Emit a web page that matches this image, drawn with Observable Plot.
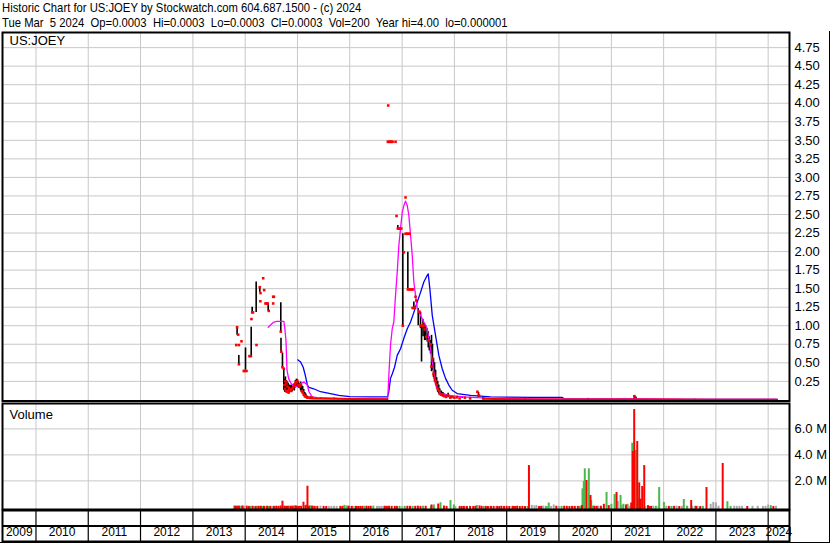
<!DOCTYPE html>
<html><head><meta charset="utf-8">
<script src="https://cdn.jsdelivr.net/npm/d3@7"></script>
<script src="https://cdn.jsdelivr.net/npm/@observablehq/plot@0.6"></script>
<style>
html,body{margin:0;padding:0;background:#fff;}
#wrap{position:relative;width:830px;height:543px;overflow:hidden;font-family:"Liberation Sans",Arial,sans-serif;color:#000;}
#hdr{position:absolute;left:2px;top:1px;font-size:13px;line-height:14.5px;white-space:pre;transform:scaleX(0.867);transform-origin:0 0;}
#box{position:absolute;left:0;top:31px;width:830px;height:512px;box-sizing:border-box;border-right:1px solid #000;border-bottom:1px solid #000;}
</style></head><body>
<div id="wrap"><div id="hdr"></div><div id="box"></div></div>
<script>
// ---------- text ----------
const headerLines = [
  "Historic Chart for US:JOEY by Stockwatch.com 604.687.1500 - (c) 2024",
  "Tue Mar  5 2024  Op=0.0003  Hi=0.0003  Lo=0.0003  Cl=0.0003  Vol=200  Year hi=4.00  lo=0.000001"
];
const symbolLabel = "US:JOEY";
const volumeLabel = "Volume";
const yearLabels = [2009,2010,2011,2012,2013,2014,2015,2016,2017,2018,2019,2020,2021,2022,2023,2024];
const priceTicks = [0.25,0.5,0.75,1,1.25,1.5,1.75,2,2.25,2.5,2.75,3,3.25,3.5,3.75,4,4.25,4.5,4.75];
const volumeTicks = [2,4,6]; // millions

// ---------- scale extents (decimal years / units) ----------
const xStart = 2009.3595, xEnd = 2024.407;
const priceDomain = [-0.015, 4.954];
const volumeDomain = [-0.2, 7.954];

// ---------- price data: [decimal year, low, high] ----------
const hlBars = [
 [2013.845,0.87,0.98],[2013.878,0.49,0.60],[2014.006,0.40,0.70],[2014.115,0.58,0.98],
 [2014.134,1.18,1.25],[2014.210,1.18,1.59],[2014.279,1.45,1.52],[2014.440,1.20,1.30],
 [2014.681,0.92,1.31],[2014.685,0.65,0.83],[2014.713,0.44,0.63],[2014.738,0.13,0.40],
 [2014.75,0.12,0.28],[2014.76,0.10,0.25],[2014.77,0.14,0.31],[2014.78,0.10,0.22],[2014.79,0.12,0.26],
 [2014.80,0.09,0.20],[2014.81,0.10,0.24],[2014.82,0.11,0.22],[2014.83,0.08,0.18],[2014.84,0.10,0.20],
 [2014.86,0.12,0.19],[2014.88,0.10,0.20],[2014.90,0.11,0.18],[2014.92,0.13,0.20],[2014.94,0.12,0.22],
 [2014.96,0.16,0.26],[2014.98,0.18,0.28],[2015.00,0.17,0.27],[2015.02,0.16,0.24],[2015.04,0.15,0.22],
 [2015.06,0.12,0.24],[2015.08,0.10,0.20],[2015.10,0.08,0.18],[2015.12,0.05,0.14],[2015.14,0.04,0.10],
 [2015.16,0.03,0.08],[2015.19,0.02,0.05],[2015.25,0.02,0.04],[2015.45,0.015,0.03],[2015.70,0.01,0.025],
 [2016.10,0.01,0.02],[2016.50,0.01,0.02],
 [2016.918,2.31,2.35],[2017.013,1.00,2.24],[2017.109,1.50,1.99],[2017.224,1.23,1.32],[2017.308,1.00,1.23],
 [2017.352,0.96,1.18],[2017.371,0.51,1.00],[2017.40,0.85,1.08],[2017.43,0.80,1.02],[2017.447,0.80,1.00],
 [2017.48,0.78,0.96],[2017.50,0.70,0.92],[2017.52,0.66,0.85],[2017.543,0.62,0.80],[2017.562,0.38,0.87],
 [2017.58,0.40,0.75],[2017.60,0.30,0.56],[2017.62,0.24,0.50],[2017.64,0.20,0.40],[2017.66,0.15,0.30],
 [2017.68,0.10,0.25],[2017.70,0.08,0.20],[2017.72,0.06,0.15],[2017.75,0.05,0.12],[2017.78,0.04,0.10],
 [2017.81,0.03,0.08],[2017.84,0.03,0.07],[2017.88,0.03,0.09],[2017.92,0.02,0.06],[2017.97,0.02,0.05],
 [2018.05,0.02,0.05],[2018.15,0.02,0.04],[2018.30,0.015,0.035],[2018.46,0.03,0.10],[2018.55,0.01,0.03],
 [2019.35,0.005,0.02],[2020.55,0.005,0.02],[2021.44,0.01,0.06],[2021.47,0.01,0.04],[2022.60,0.003,0.01]
];
// closes: [decimal year, close]
const closes = [
 [2013.830,0.74],[2013.845,0.98],[2013.866,0.88],[2013.880,0.74],[2013.929,0.79],[2013.880,0.48],
 [2013.973,0.39],[2013.990,0.39],[2014.025,0.39],[2014.082,0.59],[2014.110,0.59],[2014.216,0.74],
 [2014.120,1.09],[2014.134,1.18],[2014.150,1.18],[2014.279,1.52],[2014.293,1.44],[2014.344,1.64],
 [2014.363,1.48],[2014.290,1.33],[2014.388,1.30],[2014.410,1.30],[2014.430,1.30],[2014.451,1.20],
 [2014.535,1.39],[2014.550,1.39],[2014.535,1.30],[2014.681,0.92],[2014.690,0.65],[2014.713,0.44],
 [2014.738,0.42],[2014.75,0.20],[2014.76,0.15],[2014.77,0.25],[2014.78,0.12],[2014.79,0.22],
 [2014.80,0.11],[2014.81,0.18],[2014.82,0.13],[2014.83,0.10],[2014.84,0.16],[2014.86,0.14],
 [2014.88,0.12],[2014.90,0.15],[2014.92,0.17],[2014.94,0.20],[2014.96,0.22],[2014.98,0.24],
 [2015.00,0.25],[2015.02,0.20],[2015.04,0.18],[2015.06,0.20],[2015.08,0.12],[2015.10,0.10],
 [2015.12,0.07],[2015.14,0.05],[2015.16,0.04],[2015.19,0.03],[2015.22,0.03],[2015.25,0.025],
 [2015.28,0.03],
 [2016.734,3.97],[2016.727,3.48],[2016.745,3.48],[2016.765,3.48],[2016.785,3.48],[2016.800,3.48],
 [2016.817,3.48],[2016.874,3.48],[2016.893,2.48],[2016.918,2.31],[2016.937,2.31],[2016.960,2.31],
 [2016.983,2.31],[2017.013,1.00],[2017.033,1.99],[2017.065,2.73],[2017.065,2.24],[2017.090,2.24],
 [2017.115,2.24],[2017.142,2.24],[2017.109,1.49],[2017.130,1.49],[2017.160,1.49],[2017.180,1.49],
 [2017.205,1.49],[2017.200,1.24],[2017.224,1.24],[2017.240,1.24],[2017.256,1.39],[2017.270,1.34],
 [2017.333,1.19],[2017.352,1.00],[2017.371,1.00],[2017.390,1.00],[2017.410,1.00],[2017.430,0.95],
 [2017.46,0.85],[2017.50,0.80],[2017.543,0.75],[2017.56,0.45],[2017.58,0.55],[2017.60,0.35],
 [2017.62,0.30],[2017.64,0.25],[2017.66,0.20],[2017.68,0.15],[2017.70,0.12],[2017.72,0.08],
 [2017.75,0.07],[2017.78,0.06],[2017.81,0.05],[2017.84,0.04],[2017.88,0.06],[2017.92,0.03],
 [2017.95,0.04],[2018.00,0.03],[2018.05,0.035],[2018.10,0.02],[2018.20,0.03],[2018.30,0.02],
 [2018.44,0.11],[2018.47,0.06],[2018.55,0.02],[2021.44,0.05]
];
// flat close runs while the stock sat near zero
const closeRunA = [[2015.28,0.02],[2015.60,0.015],[2016.00,0.012],[2016.50,0.01],[2016.72,0.01]];
const closeRunB = [[2018.55,0.015],[2019.00,0.008],[2019.50,0.006],[2020.00,0.005],[2021.00,0.005],[2022.00,0.004],[2023.00,0.003],[2024.17,0.0003]];
// short moving average (magenta)
const maShort = [
 [2014.44,0.98],[2014.50,1.02],[2014.55,1.05],[2014.60,1.06],[2014.74,1.06],[2014.76,0.95],[2014.78,0.80],
 [2014.80,0.40],[2014.83,0.29],[2014.87,0.23],[2014.92,0.19],[2014.97,0.18],[2015.02,0.20],[2015.06,0.22],
 [2015.12,0.24],[2015.19,0.20],[2015.22,0.11],[2015.28,0.04],[2015.38,0.03],[2015.80,0.02],[2016.30,0.015],
 [2016.72,0.012],[2016.727,0.04],[2016.746,0.33],[2016.778,0.74],[2016.811,0.96],[2016.841,1.05],
 [2016.874,1.41],[2016.906,1.72],[2016.937,2.08],[2016.969,2.31],[2017.002,2.53],[2017.033,2.62],
 [2017.065,2.68],[2017.098,2.62],[2017.128,2.49],[2017.161,2.22],[2017.193,1.95],[2017.224,1.59],
 [2017.256,1.41],[2017.289,1.23],[2017.352,1.14],[2017.415,1.05],[2017.480,0.96],[2017.543,0.69],
 [2017.576,0.51],[2017.606,0.38],[2017.639,0.24],[2017.671,0.15],[2017.734,0.085],[2017.862,0.06],
 [2018.179,0.04],[2018.69,0.02],[2019.5,0.012],[2020.5,0.01],[2021.5,0.012],[2022.5,0.008],[2024.17,0.005]
];
// long moving average (blue)
const maLong = [
 [2015.006,0.54],[2015.06,0.51],[2015.11,0.44],[2015.15,0.33],[2015.19,0.20],[2015.22,0.17],[2015.31,0.15],
 [2015.44,0.11],[2015.63,0.085],[2015.79,0.06],[2016.00,0.045],[2016.40,0.04],[2016.72,0.04],
 [2016.746,0.11],[2016.778,0.29],[2016.811,0.35],[2016.855,0.44],[2016.906,0.60],[2016.969,0.69],
 [2017.033,0.83],[2017.098,0.96],[2017.161,1.05],[2017.224,1.18],[2017.289,1.32],[2017.352,1.45],
 [2017.415,1.59],[2017.480,1.68],[2017.499,1.70],[2017.530,1.50],[2017.576,1.14],[2017.639,0.87],
 [2017.702,0.60],[2017.767,0.42],[2017.830,0.29],[2017.893,0.20],[2017.958,0.13],[2018.053,0.085],
 [2018.308,0.06],[2018.69,0.04],[2019.50,0.035],[2020.06,0.035],[2020.10,0.012],[2021.00,0.01],
 [2022.00,0.008],[2023.00,0.007],[2024.17,0.006]
];

// ---------- volume (millions): [decimal year, volume] ----------
const volDown = [
 [2013.81,0.06],[2013.84,0.05],[2013.88,0.06],[2013.95,0.07],[2014.03,0.06],[2014.07,0.04],[2014.14,0.05],
 [2014.20,0.04],[2014.26,0.05],[2014.30,0.05],[2014.36,0.04],[2014.42,0.05],[2014.48,0.04],[2014.55,0.04],
 [2014.60,0.05],[2014.64,0.04],[2014.68,0.07],[2014.713,0.44],[2014.76,0.05],[2014.79,0.04],[2014.815,0.05],
 [2014.87,0.04],[2014.91,0.05],[2014.96,0.08],[2014.99,0.05],[2015.03,0.04],[2015.07,0.05],[2015.115,0.36],
 [2015.16,0.12],[2015.191,1.59],[2015.22,0.06],[2015.28,0.06],[2015.33,0.04],[2015.38,0.04],[2015.50,0.04],
 [2015.55,0.03],[2015.82,0.04],[2015.86,0.04],[2015.98,0.05],[2016.04,0.04],[2016.12,0.04],[2016.16,0.03],
 [2016.20,0.04],[2016.24,0.04],[2016.32,0.05],[2016.36,0.04],[2016.40,0.05],[2016.67,0.05],[2016.71,0.04],
 [2016.75,0.05],[2016.80,0.04],[2016.86,0.04],[2016.90,0.04],[2017.10,0.05],[2017.15,0.04],[2017.25,0.04],
 [2017.30,0.06],[2017.35,0.04],[2017.45,0.05],[2017.562,0.15],[2017.690,0.22],[2017.80,0.07],[2017.85,0.04],
 [2018.10,0.04],[2018.14,0.03],[2018.18,0.04],[2018.24,0.03],[2018.30,0.04],[2018.36,0.03],[2018.40,0.04],
 [2018.48,0.08],[2018.52,0.04],[2018.60,0.04],[2018.64,0.03],[2018.70,0.04],[2018.75,0.03],[2018.82,0.04],
 [2018.86,0.03],[2018.90,0.05],[2018.95,0.03],[2019.00,0.04],[2019.05,0.03],[2019.12,0.04],[2019.16,0.03],
 [2019.20,0.05],[2019.25,0.03],[2019.30,0.04],[2019.35,0.03],[2019.426,3.18],[2019.62,0.03],[2019.66,0.04],
 [2019.95,0.05],[2020.10,0.05],[2020.15,0.04],[2020.20,0.03],[2020.25,0.04],[2020.30,0.03],[2020.36,0.04],
 [2020.44,0.10],[2020.526,2.03],[2020.602,0.88],[2020.68,0.05],[2020.72,0.04],[2020.80,0.04],[2020.857,0.2],
 [2020.95,0.10],[2021.099,1.11],[2021.28,0.15],[2021.38,0.30],[2021.411,4.26],[2021.437,7.49],[2021.495,5.03],
 [2021.533,1.85],[2021.558,0.60],[2021.59,1.57],[2021.629,3.18],[2021.70,0.10],[2021.72,0.04],[2021.76,0.04],
 [2022.10,0.04],[2022.20,0.04],[2022.30,0.03],[2022.527,0.49],[2022.62,0.04],[2022.70,0.03],[2022.82,1.49],
 [2023.13,3.34],[2023.60,0.03],[2024.10,0.03]
];
const volUp = [
 [2013.79,0.06],[2013.86,0.05],[2013.93,0.05],[2014.10,0.04],[2014.23,0.04],[2014.33,0.04],[2014.45,0.04],
 [2014.58,0.04],[2014.74,0.05],[2014.84,0.05],[2014.88,0.06],[2014.96,0.05],[2015.25,0.08],[2015.30,0.05],
 [2015.90,0.12],[2015.95,0.07],[2016.28,0.05],[2016.45,0.06],[2016.95,0.05],[2017.05,0.04],[2017.20,0.04],
 [2017.40,0.05],[2017.55,0.06],[2017.606,0.15],[2017.734,0.32],[2017.925,0.49],[2017.989,0.15],[2018.43,0.10],
 [2018.56,0.04],[2019.40,0.04],[2019.75,0.04],[2019.805,0.30],[2020.05,0.04],[2020.40,0.05],[2020.449,1.39],
 [2020.474,1.95],[2020.493,2.93],[2020.570,2.93],[2020.615,0.50],[2020.65,0.06],[2020.80,0.05],[2020.908,1.11],
 [2021.00,0.20],[2021.061,0.95],[2021.176,0.88],[2021.23,0.20],[2021.31,0.20],[2021.40,4.90],[2021.449,1.72],
 [2021.468,4.34],[2021.515,0.60],[2021.85,0.05],[2021.915,1.49],[2022.005,0.34],[2022.15,0.04],[2022.386,0.57],
 [2022.45,0.04],[2022.75,0.04],[2023.22,0.40],[2023.28,0.04],[2024.05,0.10]
];
const volFlat = [
 [2013.90,0.04],[2013.92,0.04],[2013.98,0.04],[2014.17,0.04],[2014.40,0.04],[2014.52,0.04],[2014.92,0.05],
 [2015.13,0.04],[2015.44,0.06],[2015.60,0.04],[2015.65,0.04],[2015.70,0.04],[2015.75,0.04],[2015.90,0.03],
 [2016.00,0.04],[2016.08,0.04],[2016.52,0.04],[2016.56,0.04],[2016.60,0.04],[2016.64,0.04],[2017.00,0.03],
 [2017.60,0.04],[2018.02,0.03],[2018.20,0.03],[2018.66,0.03],[2018.80,0.03],[2019.10,0.04],[2019.48,0.12],
 [2019.53,0.08],[2019.57,0.10],[2019.70,0.06],[2019.78,0.04],[2019.85,0.04],[2019.90,0.15],[2020.00,0.04],
 [2020.30,0.05],[2020.60,0.04],[2020.75,0.06],[2021.125,0.42],[2021.20,0.10],[2021.35,0.05],[2021.65,0.04],
 [2021.80,0.05],[2021.90,0.04],[2022.05,0.05],[2022.25,0.06],[2022.35,0.04],[2022.45,0.05],[2022.55,0.04],
 [2022.60,0.05],[2022.65,0.04],[2022.90,0.20],[2022.95,0.35],[2023.00,0.30],[2023.05,0.05],[2023.35,0.05],
 [2023.40,0.04],[2023.45,0.05],[2023.50,0.04],[2023.70,0.04],[2023.80,0.05],[2023.90,0.04],[2023.95,0.04],
 [2024.00,0.15],[2024.15,0.05]
];

// ---------- helpers ----------
const toDate = t => { const y = Math.floor(t); const a = Date.UTC(y,0,1), b = Date.UTC(y+1,0,1); return new Date(a + (t - y) * (b - a)); };
const X = d => toDate(d[0]);
const xOpts = {type: "utc", domain: [toDate(xStart), toDate(xEnd)], axis: null};
const yearStarts = yearLabels.filter(y => y > xStart && y < xEnd).map(toDate);
const yearMids = yearLabels.map(y => ({label: String(y), t: toDate((Math.max(y, xStart) + Math.min(y + 1, xEnd)) / 2)}));
const FONT = '"Liberation Sans", Arial, Helvetica, sans-serif';
const GRID = "#c8c8c8";
const W = 830;
const baseStyle = {fontFamily: FONT, fontSize: "13px", background: "transparent", color: "#000", overflow: "visible"};

// header
document.getElementById("hdr").textContent = headerLines.join("\n");

// ---------- price panel ----------
const pricePlot = Plot.plot({
  width: W, height: 372, marginLeft: 2, marginRight: 41, marginTop: 2, marginBottom: 1.5,
  style: baseStyle,
  x: xOpts,
  y: {domain: priceDomain, label: null},
  marks: [
    Plot.ruleX(yearStarts, {stroke: GRID, strokeWidth: 1}),
    Plot.ruleY(priceTicks, {stroke: GRID, strokeWidth: 1}),
    Plot.ruleX(hlBars, {x: X, y1: d => d[1], y2: d => d[2], stroke: "#000", strokeWidth: 1.6}),
    Plot.line(maLong, {x: X, y: d => d[1], stroke: "#0000ff", strokeWidth: 1.3}),
    Plot.line(maShort, {x: X, y: d => d[1], stroke: "#ff00ff", strokeWidth: 1.3}),
    Plot.line(closeRunA, {x: X, y: d => d[1], stroke: "#ff0000", strokeWidth: 2}),
    Plot.line(closeRunB, {x: X, y: d => d[1], stroke: "#ff0000", strokeWidth: 2}),
    Plot.dot(closes, {x: X, y: d => d[1], symbol: "square", r: 1.45, fill: "#ff0000"}),
    Plot.axisY({anchor: "right", ticks: priceTicks, tickSize: 0, tickPadding: 5, tickFormat: d => d.toFixed(2), fontSize: 13, label: null}),
    Plot.text([symbolLabel], {frameAnchor: "top-left", textAnchor: "start", lineAnchor: "top", dx: 7, dy: 3.5, fontSize: 13}),
    Plot.frame({stroke: "#000", strokeWidth: 2})
  ]
});

// ---------- volume panel ----------
const volPlot = Plot.plot({
  width: W, height: 110, marginLeft: 2, marginRight: 41, marginTop: 2, marginBottom: 2,
  style: baseStyle,
  x: xOpts,
  y: {domain: volumeDomain, label: null},
  marks: [
    Plot.ruleX(yearStarts, {stroke: GRID, strokeWidth: 1}),
    Plot.ruleY(volumeTicks, {stroke: GRID, strokeWidth: 1}),
    Plot.ruleX(volFlat, {x: X, y1: volumeDomain[0], y2: d => d[1], stroke: "#aaaaaa", strokeWidth: 2}),
    Plot.ruleX(volUp, {x: X, y1: volumeDomain[0], y2: d => d[1], stroke: "#4cb84c", strokeWidth: 2}),
    Plot.ruleX(volDown, {x: X, y1: volumeDomain[0], y2: d => d[1], stroke: "#ff0000", strokeWidth: 2}),
    Plot.axisY({anchor: "right", ticks: volumeTicks, tickSize: 0, tickPadding: 5, tickFormat: d => d.toFixed(1) + " M", fontSize: 13, label: null}),
    Plot.text([volumeLabel], {frameAnchor: "top-left", textAnchor: "start", lineAnchor: "top", dx: 7, dy: 6, fontSize: 13}),
    Plot.frame({stroke: "#000", strokeWidth: 2})
  ]
});

// ---------- year axis strip ----------
const axisPlot = Plot.plot({
  width: W, height: 34, marginLeft: 2, marginRight: 41, marginTop: 1, marginBottom: 2,
  style: baseStyle,
  x: xOpts,
  y: {domain: [0, 1], axis: null},
  marks: [
    Plot.ruleX(yearStarts, {stroke: "#000", strokeWidth: 1.2}),
    Plot.ruleY([0.5], {stroke: "#000", strokeWidth: 2}),
    Plot.text(yearMids, {x: "t", text: "label", frameAnchor: "bottom", dy: -6, fontSize: 12}),
    Plot.frame({stroke: "#000", strokeWidth: 2})
  ]
});

const wrap = document.getElementById("wrap");
function place(el, top) { el.style.position = "absolute"; el.style.left = "0px"; el.style.top = top + "px"; wrap.appendChild(el); }
place(pricePlot, 30);
place(volPlot, 401);
place(axisPlot, 509);
</script>
</body></html>
